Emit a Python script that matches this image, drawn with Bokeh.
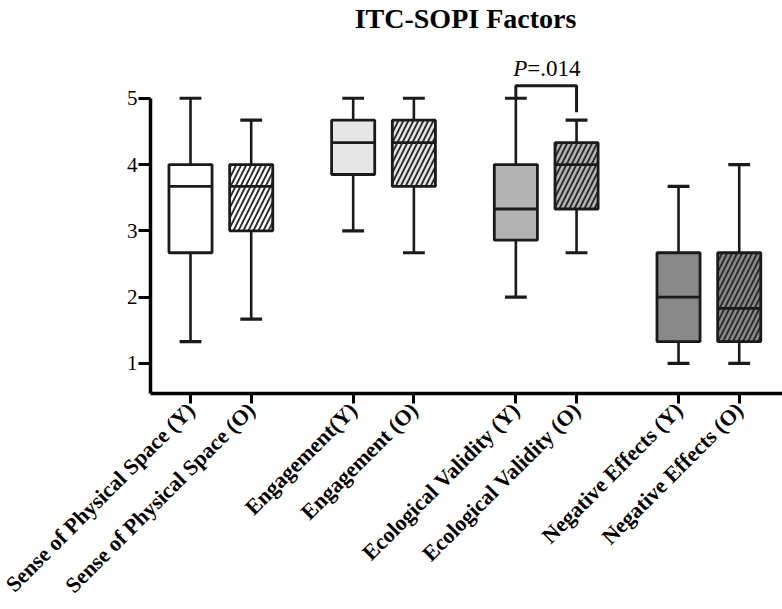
import math
from bokeh.plotting import figure
from bokeh.models import ColumnDataSource, FixedTicker
from bokeh.embed import file_html
from bokeh.resources import INLINE
from bokeh.core.properties import value

# ---- data ----
labels = ["Sense of Physical Space (Y)", "Sense of Physical Space (O)",
          "Engagement(Y)", "Engagement (O)",
          "Ecological Validity (Y)", "Ecological Validity (O)",
          "Negative Effects (Y)", "Negative Effects (O)"]
whisker_min = [1.33, 1.67, 3.00, 2.67, 2.00, 2.67, 1.00, 1.00]
q1          = [2.67, 3.00, 3.85, 3.67, 2.86, 3.33, 1.33, 1.33]
median      = [3.67, 3.67, 4.33, 4.33, 3.33, 4.00, 2.00, 1.83]
q3          = [4.00, 4.00, 4.67, 4.67, 4.00, 4.33, 2.67, 2.67]
whisker_max = [5.00, 4.67, 5.00, 5.00, 5.00, 4.67, 3.67, 4.00]
y_ticks = [1, 2, 3, 4, 5]
title_text = "ITC-SOPI Factors"
p_label = "P"
p_rest = "=.014"
sig_pair = (4, 5)

# ---- styling / layout ----
group_fill = ["#ffffff", "#e6e6e6", "#b3b3b3", "#888888"]
group_gap = 2.68
pos = [round((i // 2) * group_gap + (i % 2), 2) for i in range(len(labels))]
fills = [group_fill[i // 2] for i in range(len(labels))]
hatches = ["" if i % 2 == 0 else "/" for i in range(len(labels))]
box_w = 0.71
cap_w = 0.36
LINE = "#1a1a1a"
SERIF = "Liberation Serif"

src = ColumnDataSource(dict(
    x=pos, lo=whisker_min, q1=q1, med=median, q3=q3, hi=whisker_max,
    fill=fills, hatch=hatches,
    xl=[p - box_w / 2 for p in pos], xr=[p + box_w / 2 for p in pos],
    cl=[p - cap_w / 2 for p in pos], cr=[p + cap_w / 2 for p in pos],
))

PX = 66.3           # pixels per y unit
XPX = 60.7          # pixels per x unit
y_start = 0.547
frame_top = 0
frame_bottom = 393
y_end = y_start + (frame_bottom - frame_top) / PX
x_start = -0.659
x_end = x_start + (782 - 150) / XPX

p = figure(width=782, height=609, x_range=(x_start, x_end), y_range=(y_start, y_end),
           output_backend="svg", toolbar_location=None,
           min_border_left=150, min_border_right=0, min_border_bottom=609 - frame_bottom,
           min_border_top=frame_top)

p.grid.visible = False
p.outline_line_color = None
p.background_fill_color = "white"
p.border_fill_color = "white"

# title (drawn inside the invisible top part of the frame)
p.text(x=[x_start + (465 - 150) / XPX], y=[y_end - 17.5 / PX], text=[title_text],
       text_align="center", text_baseline="middle",
       text_font=value(SERIF), text_font_size="28px", text_font_style="bold",
       text_color="black")

# whiskers
p.segment(x0="x", y0="q3", x1="x", y1="hi", source=src, line_color=LINE, line_width=2.6)
p.segment(x0="x", y0="q1", x1="x", y1="lo", source=src, line_color=LINE, line_width=2.6)
p.segment(x0="cl", y0="hi", x1="cr", y1="hi", source=src, line_color=LINE, line_width=3.2)
p.segment(x0="cl", y0="lo", x1="cr", y1="lo", source=src, line_color=LINE, line_width=3.2)
# boxes
p.quad(left="xl", right="xr", bottom="q1", top="q3", source=src,
       fill_color="fill", line_color=LINE, line_width=2.8,
       hatch_pattern="hatch", hatch_color="#2a2a2a", hatch_weight=1.9, hatch_scale=10)
# medians
p.segment(x0="xl", y0="med", x1="xr", y1="med", source=src, line_color=LINE, line_width=2.8)

# significance bracket
a, b = sig_pair
br_top = whisker_max[a] + 0.19
p.line(x=[pos[a], pos[a], pos[b], pos[b]],
       y=[whisker_max[a], br_top, br_top, whisker_max[b] + 0.12],
       line_color=LINE, line_width=3)
cx = (pos[a] + pos[b]) / 2
ty = br_top + 0.26
p.text(x=[cx], y=[ty], text=[p_label], x_offset=-19,
       text_align="right", text_baseline="middle",
       text_font=value(SERIF), text_font_size="23px", text_font_style="italic",
       text_color="black")
p.text(x=[cx], y=[ty], text=[p_rest], x_offset=-19,
       text_align="left", text_baseline="middle",
       text_font=value(SERIF), text_font_size="23px", text_color="black")

# axes
ya = p.yaxis[0]
ya.ticker = FixedTicker(ticks=y_ticks)
ya.bounds = (y_start, 5)
ya.axis_line_width = 3.5
ya.axis_line_color = "black"
ya.major_tick_line_width = 3
ya.major_tick_line_color = "black"
ya.major_tick_out = 12
ya.major_tick_in = 0
ya.minor_tick_line_color = None
ya.major_label_text_font = SERIF
ya.major_label_text_font_size = "21px"
ya.major_label_text_color = "black"
ya.major_label_standoff = 1

xa = p.xaxis[0]
xa.ticker = FixedTicker(ticks=pos)
xa.major_label_overrides = {pp: lab for pp, lab in zip(pos, labels)}
xa.major_label_orientation = math.pi / 4
xa.axis_line_width = 3.5
xa.axis_line_color = "black"
xa.major_tick_line_width = 3
xa.major_tick_line_color = "black"
xa.major_tick_out = 10
xa.major_tick_in = 0
xa.minor_tick_line_color = None
xa.major_label_text_font = SERIF
xa.major_label_text_font_size = "22px"
xa.major_label_text_font_style = "bold"
xa.major_label_text_color = "black"
xa.major_label_standoff = 3

open("out.html", "w").write(file_html(p, INLINE))
